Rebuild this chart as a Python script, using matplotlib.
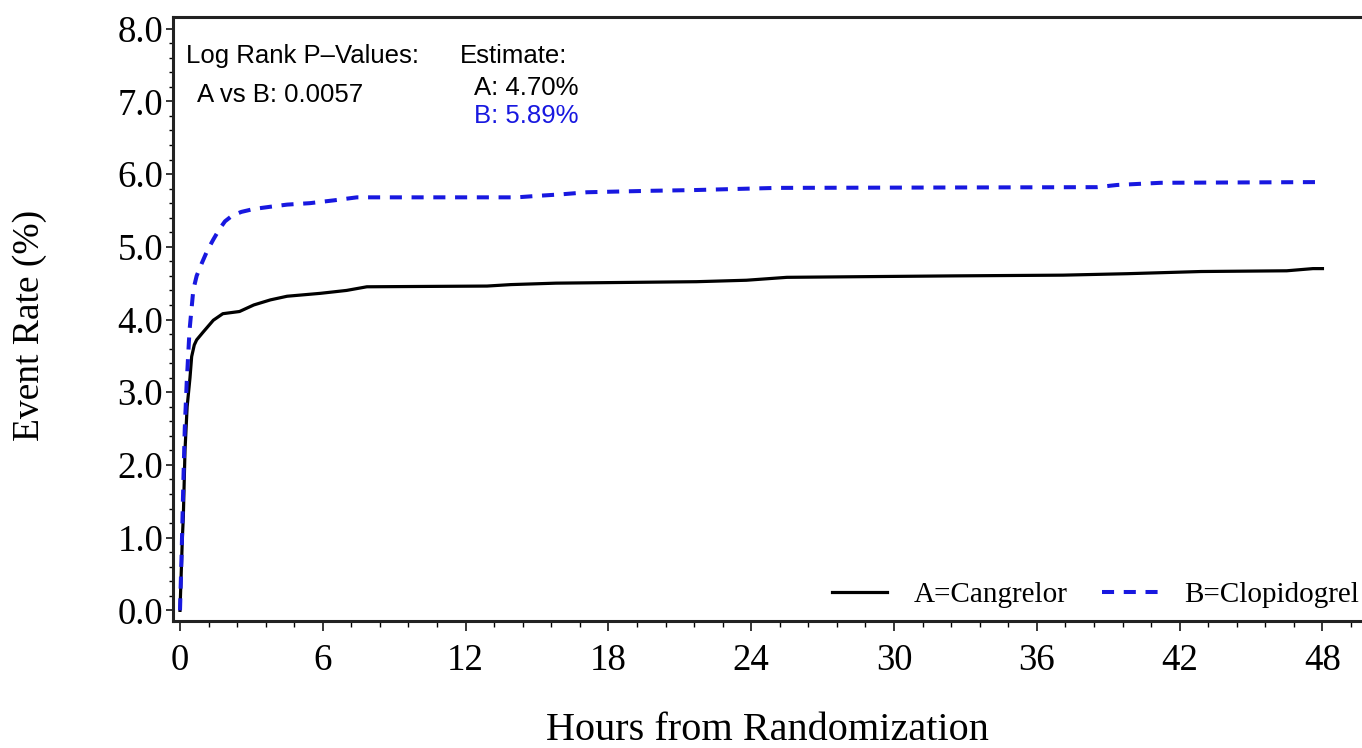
import matplotlib
matplotlib.use('Agg')
import matplotlib.pyplot as plt
import matplotlib.ticker as ticker

# Cumulative event rate (%)
hours_a = [0.0, 0.05, 0.1, 0.14, 0.21, 0.3, 0.42, 0.49, 0.6, 0.7, 0.98, 1.4, 1.8, 2.5, 3.1, 3.8,
           4.5, 5.9, 7.0, 7.85, 12.9, 13.9, 15.8, 21.7, 23.8, 25.5, 32.5, 37.1, 39.8, 42.9,
           46.5, 47.6, 48.0]
rate_a = [0.0, 0.5, 1.0, 1.29, 2.2, 2.8, 3.2, 3.49, 3.65, 3.72, 3.83, 3.99, 4.08, 4.11, 4.2, 4.27,
          4.32, 4.36, 4.4, 4.45, 4.46, 4.48, 4.5, 4.52, 4.54, 4.58, 4.6, 4.61, 4.63, 4.66,
          4.67, 4.7, 4.7]

hours_b = [0.0, 0.07, 0.14, 0.2, 0.28, 0.4, 0.56, 0.7, 0.91, 1.15, 1.4, 1.65, 1.89, 2.2, 2.58,
           3.1, 3.78, 4.5, 5.46, 6.5, 7.43, 14.15, 15.0, 15.97, 17.1, 19.76, 21.6, 25.08,
           38.53, 39.37, 41.2, 48.0]
rate_b = [0.0, 0.8, 1.75, 2.5, 3.12, 3.85, 4.41, 4.6, 4.77, 4.95, 5.1, 5.24, 5.35, 5.43, 5.48,
          5.52, 5.55, 5.58, 5.6, 5.64, 5.68, 5.68, 5.7, 5.72, 5.75, 5.77, 5.78, 5.81,
          5.82, 5.85, 5.88, 5.89]

label_a = 'A=Cangrelor'
label_b = 'B=Clopidogrel'
x_ticks = [0, 6, 12, 18, 24, 30, 36, 42, 48]
y_ticks = [0, 1, 2, 3, 4, 5, 6, 7, 8]

blue = '#1818e0'
serif = ['Liberation Serif', 'DejaVu Serif']
sans = ['Liberation Sans', 'DejaVu Sans']

W, H = 1362, 748
fig = plt.figure(figsize=(W / 100, H / 100), dpi=100)

# axes box in pixels: left 173, right runs off the picture, top 17, bottom 621
ax = fig.add_axes([173 / W, 1 - 621 / H, (1366 - 173) / W, (621 - 17) / H])

ax.plot(hours_a, rate_a, color='black', lw=2.3, label=label_a)
ax.plot(hours_b, rate_b, color=blue, lw=2.9, linestyle=(0, (3, 2.4)), label=label_b)

ax.set_xlim(-0.294, 49.83)
ax.set_ylim(-0.146, 8.16)

ax.xaxis.set_major_locator(ticker.FixedLocator(x_ticks))
ax.xaxis.set_minor_locator(ticker.MultipleLocator(1.2))
ax.yaxis.set_major_locator(ticker.FixedLocator(y_ticks))
ax.yaxis.set_minor_locator(ticker.MultipleLocator(0.2))
ax.yaxis.set_major_formatter(ticker.FormatStrFormatter('%.1f'))

ax.tick_params(axis='x', which='major', length=7, width=1.1, pad=9, labelsize=26.5)
ax.tick_params(axis='x', which='minor', length=4, width=1.0)
ax.tick_params(axis='y', which='major', length=5, width=1.1, pad=2, labelsize=26.5)
ax.tick_params(axis='y', which='minor', length=3, width=1.0)
for lab in ax.get_xticklabels() + ax.get_yticklabels():
    lab.set_family(serif)

for side in ['left', 'bottom', 'top']:
    ax.spines[side].set_linewidth(2.2)
    ax.spines[side].set_color('#222222')
ax.spines['right'].set_visible(False)

ax.set_xlabel('Hours from Randomization', fontsize=29, family=serif, va='center')
ax.xaxis.set_label_coords(0.498, -0.181)
ax.set_ylabel('Event Rate (%)', fontsize=27, family=serif, va='center')
ax.yaxis.set_label_coords(-0.12, 0.49)

# statistics box in the top left corner
fs = 18.5
fig.text(186 / W, 1 - 63 / H, 'Log Rank P\u2013Values:', fontsize=fs, family=sans, va='baseline')
fig.text(460 / W, 1 - 63 / H, 'Estimate:', fontsize=fs, family=sans, va='baseline')
fig.text(197 / W, 1 - 102 / H, 'A vs B: 0.0057', fontsize=fs, family=sans, va='baseline')
fig.text(578 / W, 1 - 95 / H, 'A: 4.70%', fontsize=fs, family=sans, va='baseline', ha='right')
fig.text(578 / W, 1 - 123 / H, 'B: 5.89%', fontsize=fs, family=sans, va='baseline', ha='right',
         color=blue)

leg = ax.legend(loc='center right', bbox_to_anchor=(1359 / W, 1 - 595 / H),
                bbox_transform=fig.transFigure, ncol=2, frameon=False, borderpad=0,
                borderaxespad=0, handlelength=1.9, handletextpad=0.9, columnspacing=1.2,
                prop={'family': serif, 'size': 21})

fig.savefig('out.png', dpi=100)
